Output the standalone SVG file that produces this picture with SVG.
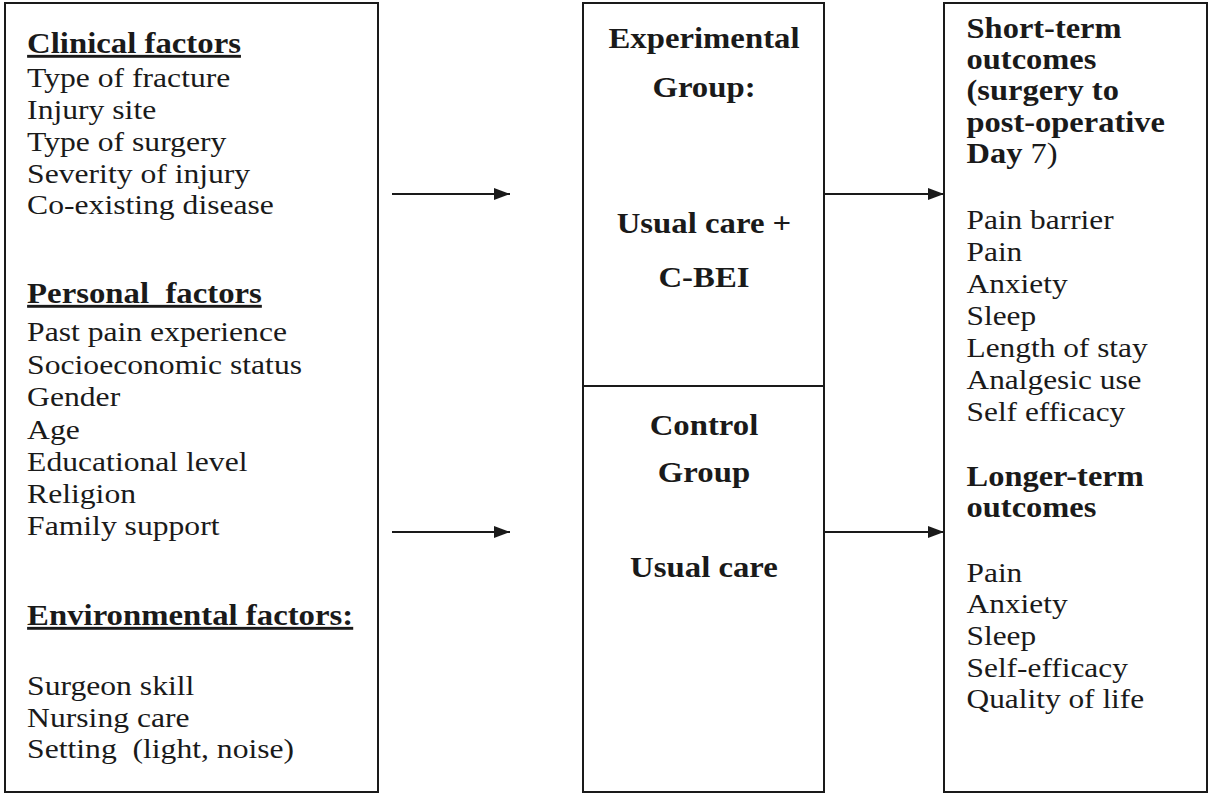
<svg xmlns="http://www.w3.org/2000/svg" width="1212" height="795" viewBox="0 0 1212 795">
  <defs>
    <style>
      .box { fill: #ffffff; stroke: #1a1a1a; stroke-width: 2; }
      .div { stroke: #1a1a1a; stroke-width: 2; }
      .conn { stroke: #1a1a1a; stroke-width: 1.8; fill: none; marker-end: url(#head); }
      .t { font-family: "Liberation Serif", "Times New Roman", serif; fill: #1a1a1a; }
      .r { font-size: 28px; }
      .b { font-size: 29px; font-weight: bold; }
      .u { text-decoration: underline; }
      .c { text-anchor: middle; }
    </style>
    <marker id="head" viewBox="0 0 16 12" refX="16" refY="6" markerWidth="16" markerHeight="12" markerUnits="userSpaceOnUse" orient="auto">
      <path d="M0,0 L16,6 L0,12 Z" fill="#1a1a1a"/>
    </marker>
  </defs>
  <rect width="1212" height="795" fill="#ffffff"/>

  <!-- Influencing factors (text set in a horizontally widened frame) -->
  <g id="factors">
    <rect class="box" x="5" y="3" width="373" height="789"/>
    <g transform="scale(1.13 1)">
      <text class="t b u" x="24" y="53">Clinical factors</text>
      <text class="t r" x="24" y="87">Type of fracture</text>
      <text class="t r" x="24" y="119">Injury site</text>
      <text class="t r" x="24" y="151">Type of surgery</text>
      <text class="t r" x="24" y="183">Severity of injury</text>
      <text class="t r" x="24" y="214">Co-existing disease</text>
      <text class="t b u" x="24" y="303" xml:space="preserve">Personal  factors</text>
      <text class="t r" x="24" y="341">Past pain experience</text>
      <text class="t r" x="24" y="374">Socioeconomic status</text>
      <text class="t r" x="24" y="406">Gender</text>
      <text class="t r" x="24" y="439">Age</text>
      <text class="t r" x="24" y="471">Educational level</text>
      <text class="t r" x="24" y="503">Religion</text>
      <text class="t r" x="24" y="535">Family support</text>
      <text class="t b u" x="24" y="625">Environmental factors:</text>
      <text class="t r" x="24" y="695">Surgeon skill</text>
      <text class="t r" x="24" y="727">Nursing care</text>
      <text class="t r" x="24" y="758" xml:space="preserve">Setting  (light, noise)</text>
    </g>
  </g>

  <!-- Study groups -->
  <g id="groups">
    <rect class="box" x="583" y="3" width="241" height="789"/>
    <line class="div" x1="583" y1="386" x2="824" y2="386"/>
    <g id="experimental" transform="scale(1.13 1)">
      <text class="t b c" x="623" y="48">Experimental</text>
      <text class="t b c" x="623" y="97">Group:</text>
      <text class="t b c" x="623" y="233">Usual care +</text>
      <text class="t b c" x="623" y="287">C-BEI</text>
    </g>
    <g id="control" transform="scale(1.13 1)">
      <text class="t b c" x="623" y="435">Control</text>
      <text class="t b c" x="623" y="482">Group</text>
      <text class="t b c" x="623" y="577">Usual care</text>
    </g>
  </g>

  <!-- Outcomes -->
  <g id="outcomes">
    <rect class="box" x="944" y="3" width="263" height="789"/>
    <g transform="scale(1.12 1)">
      <text class="t b" x="863" y="38">Short-term</text>
      <text class="t b" x="863" y="69">outcomes</text>
      <text class="t b" x="863" y="100">(surgery to</text>
      <text class="t b" x="863" y="132">post-operative</text>
      <text class="t b" x="863" y="163">Day<tspan font-weight="normal"> 7)</tspan></text>
      <text class="t r" x="863" y="229">Pain barrier</text>
      <text class="t r" x="863" y="261">Pain</text>
      <text class="t r" x="863" y="293">Anxiety</text>
      <text class="t r" x="863" y="325">Sleep</text>
      <text class="t r" x="863" y="357">Length of stay</text>
      <text class="t r" x="863" y="389">Analgesic use</text>
      <text class="t r" x="863" y="421">Self efficacy</text>
      <text class="t b" x="863" y="486">Longer-term</text>
      <text class="t b" x="863" y="517">outcomes</text>
      <text class="t r" x="863" y="582">Pain</text>
      <text class="t r" x="863" y="613">Anxiety</text>
      <text class="t r" x="863" y="645">Sleep</text>
      <text class="t r" x="863" y="677">Self-efficacy</text>
      <text class="t r" x="863" y="708">Quality of life</text>
    </g>
  </g>

  <!-- Connectors -->
  <g id="connectors">
    <line class="conn" x1="392" y1="194" x2="510" y2="194"/>
    <line class="conn" x1="392" y1="532" x2="510" y2="532"/>
    <line class="conn" x1="824" y1="194" x2="944" y2="194"/>
    <line class="conn" x1="824" y1="532" x2="944" y2="532"/>
  </g>
</svg>
